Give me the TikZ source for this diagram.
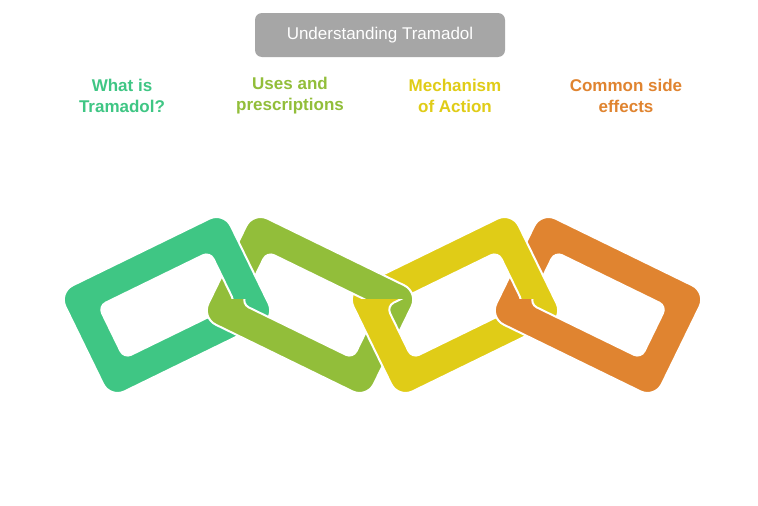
\documentclass[tikz,border=0pt]{standalone}
\usepackage{fontspec}
\setmainfont{Liberation Sans}
\definecolor{cg}{HTML}{3FC684}
\definecolor{cl}{HTML}{92BE3A}
\definecolor{cy}{HTML}{E0CC17}
\definecolor{co}{HTML}{E08430}
\definecolor{tg}{HTML}{A6A6A6}
\tikzset{
 lbl/.style={font=\bfseries\fontsize{17}{21}\selectfont, align=center},
}
\newcommand{\chainlink}[4]{%
 \begin{scope}[shift={(#1,#2)},rotate=#3]
 \path[fill=#4,draw=white,line width=2pt,even odd rule]
  [rounded corners=16pt] (-92,-59) rectangle (92,59)
  [rounded corners=8pt] (-62,-29) rectangle (62,29);
 \end{scope}}
\begin{document}
\begin{tikzpicture}[x=1pt,y=-1pt]
\useasboundingbox[fill=white] (0,0) rectangle (758,506);
\node[fill=tg,rounded corners=7pt,minimum width=250pt,minimum height=44pt,text=white,font=\fontsize{17}{21}\selectfont] (title) at (380,35) {Understanding Tramadol};
\node[lbl,text=cg] (l1) at (122,96) {What is\\Tramadol?};
\node[lbl,text=cl] (l2) at (290,96) {Uses and\\prescriptions};
\node[lbl,text=cy] (l3) at (455,96) {Mechanism\\of Action};
\node[lbl,text=co] (l4) at (626,96) {Common side\\effects};
\chainlink{167}{305}{26}{cg}
\chainlink{310}{305}{-26}{cl}
\chainlink{455}{305}{26}{cy}
\chainlink{598}{305}{-26}{co}
\begin{scope}
\clip (195,200) rectangle (300,298);
\chainlink{167}{305}{26}{cg}
\end{scope}
\begin{scope}
\clip (340,200) rectangle (440,298);
\chainlink{310}{305}{-26}{cl}
\end{scope}
\begin{scope}
\clip (483,200) rectangle (590,298);
\chainlink{455}{305}{26}{cy}
\end{scope}
\end{tikzpicture}
\end{document}
